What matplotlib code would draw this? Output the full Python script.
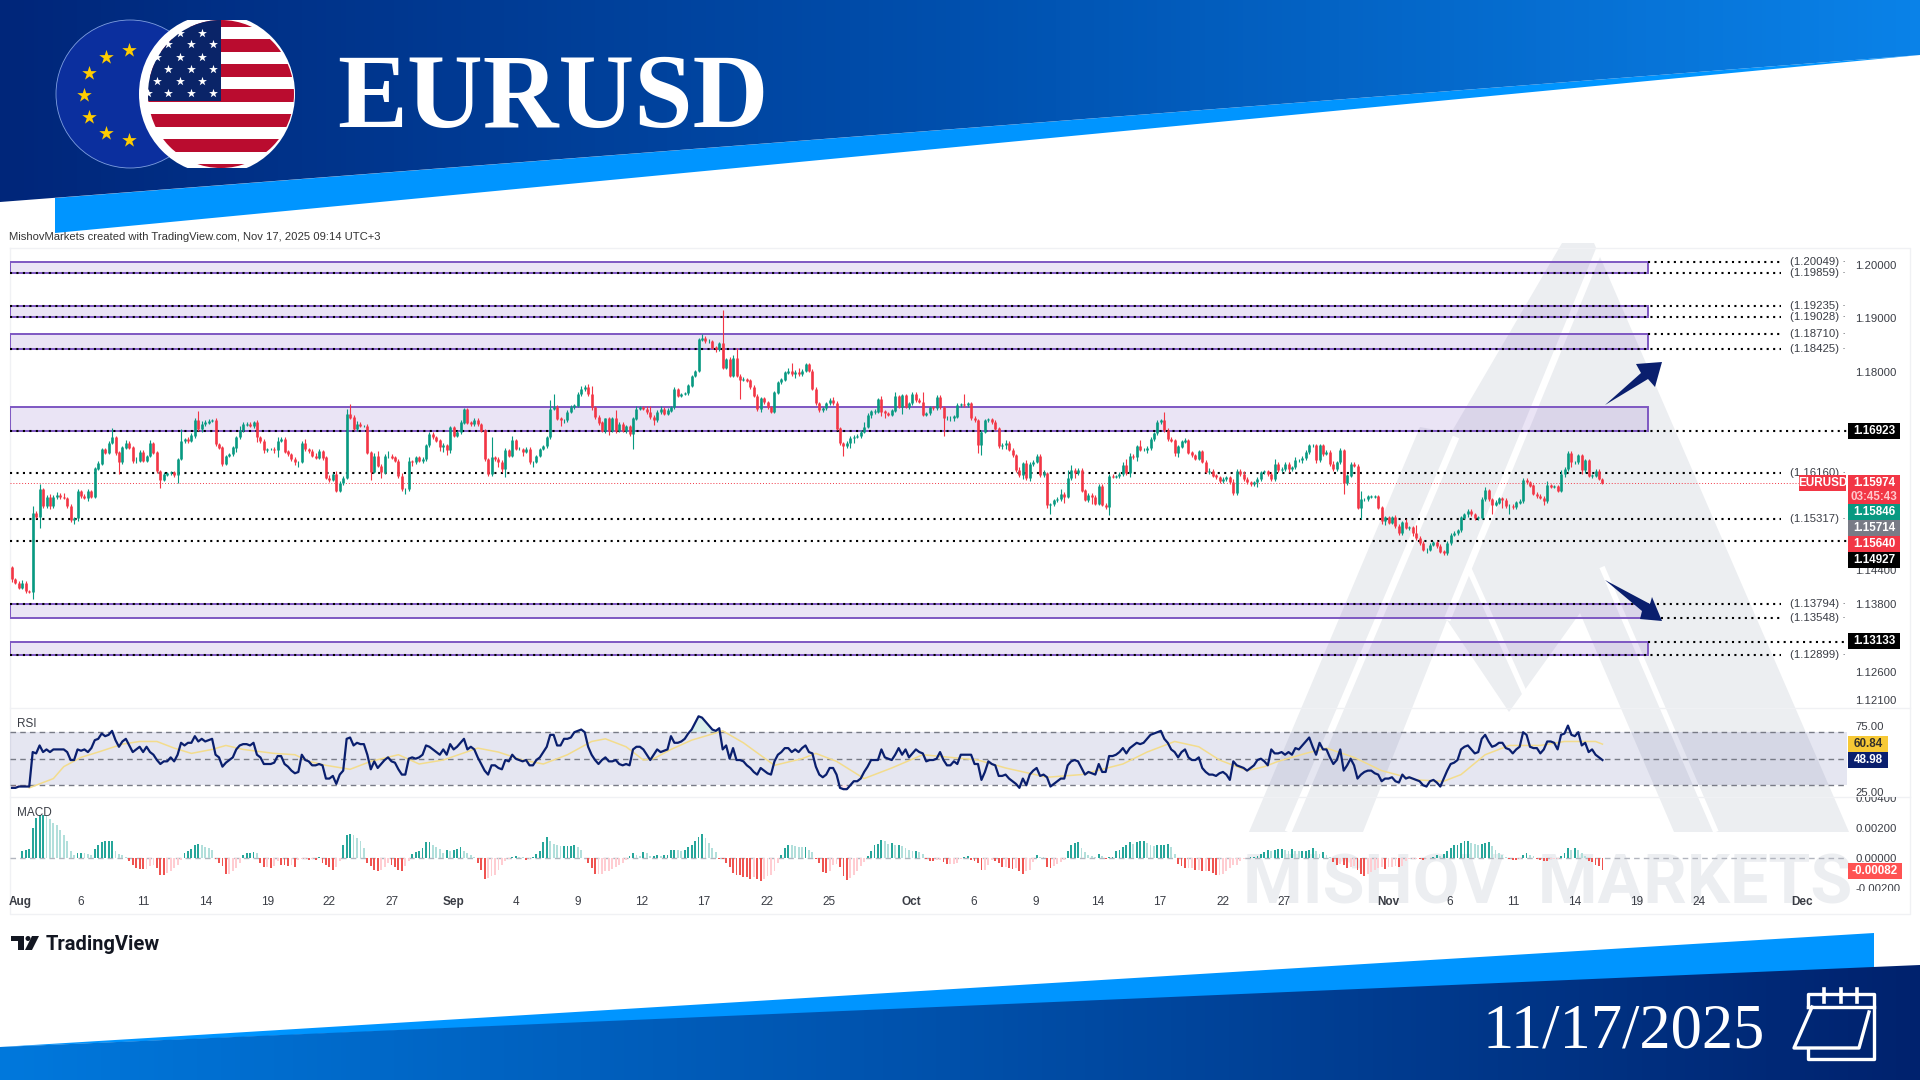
"""EURUSD 4H chart slide: candles, RSI and MACD panes with a branded header and footer."""

import matplotlib
matplotlib.use("Agg")
import matplotlib.pyplot as plt
import numpy as np
from matplotlib.patches import Ellipse, Polygon, Rectangle
from matplotlib.ticker import NullLocator
from matplotlib.transforms import Bbox

# closes in pips above 1.1000, one row per 10 4H bars
closes = [
    424,418,409,418,403,402,543,537,586,556,
    572,556,572,576,572,571,556,531,534,582,
    574,571,582,573,624,633,659,652,671,682,
    653,635,662,671,662,638,638,654,638,647,
    671,653,620,604,613,615,617,613,641,674,
    678,674,684,712,696,705,708,711,712,668,
    662,632,647,650,662,681,694,704,705,702,
    708,681,674,657,659,659,657,674,678,655,
    650,641,635,636,671,659,656,647,644,655,
    644,607,604,613,583,598,607,723,717,696,
    705,702,702,653,617,647,629,617,647,647,
    644,637,610,586,586,638,
    635,644,638,641,666,687,681,675,663,666,
    657,699,684,690,708,733,708,705,712,705,
    693,641,614,644,641,635,623,657,647,675,
    660,660,655,660,635,635,647,660,665,681,
    733,736,715,712,712,727,736,739,760,769,
    773,760,736,718,708,693,715,693,715,693,
    705,693,701,687,715,733,736,733,727,718,
    712,727,733,724,730,736,769,757,760,762,
    776,794,803,861,864,858,858,846,843,854,
    809,824,794,827,794,787,788,785,773,757,
    732,752,745,736,728,763,782,787,800,803,
    797,801,797,803,815,803,
    770,743,731,734,743,749,743,697,670,665,
    671,679,682,683,691,700,722,728,728,750,
    728,725,722,730,756,737,758,737,743,760,
    749,746,722,725,736,734,755,736,716,716,
    716,719,740,741,740,743,716,712,667,691,
    712,714,709,697,665,667,671,658,648,621,
    612,633,606,632,636,647,612,615,557,559,
    566,569,578,573,606,621,615,621,584,567,
    576,572,560,592,558,554,610,609,610,614,
    630,615,647,645,664,658,658,661,677,688,
    709,712,694,677,675,652,664,673,675,653,
    648,642,655,636,618,
    620,611,608,601,605,608,599,579,620,614,
    605,599,595,599,605,617,619,614,605,632,
    621,623,632,623,626,639,639,643,654,666,
    666,639,666,651,654,632,623,635,657,597,
    611,632,629,553,568,568,573,573,573,553,
    529,535,526,535,520,507,526,517,517,507,
    498,489,477,477,486,490,484,474,471,489,
    504,507,512,535,541,547,541,534,535,568,
    584,568,558,562,570,567,556,556,554,562,
    565,603,599,593,578,574,571,565,593,591,
    591,584,614,623,652,635,635,648,621,639,
    611,611,620,605,597,
]
wick_up = [
    3,2,3,4,3,2,12,4,9,3,
    3,5,4,6,4,8,2,3,2,4,
    3,3,5,2,2,4,3,2,3,15,
    2,3,2,4,3,3,6,3,3,2,
    4,2,3,2,4,3,2,3,2,22,
    2,3,4,5,17,6,5,3,2,4,
    3,3,2,2,2,2,7,4,3,3,
    3,5,3,4,2,2,4,8,3,3,
    2,3,4,2,3,7,3,3,5,4,
    2,3,5,3,6,4,3,9,18,5,
    5,3,2,3,3,5,9,3,4,9,
    3,3,4,5,3,6,
    2,3,3,4,3,3,3,2,3,5,
    3,3,3,2,4,2,2,3,4,5,
    2,3,2,38,3,3,5,4,3,9,
    3,3,2,3,3,3,2,2,2,3,
    17,25,4,3,3,3,4,3,3,5,
    3,6,15,3,3,2,2,3,3,15,
    3,4,3,2,3,5,2,3,6,12,
    3,3,5,3,4,3,4,3,2,2,
    3,2,2,3,7,4,3,2,3,3,
    62,3,4,6,18,3,3,2,3,3,
    3,3,3,3,3,2,3,3,3,5,
    14,3,8,3,3,3,
    3,3,3,3,3,3,6,5,3,3,
    3,4,3,3,4,9,3,3,4,3,
    6,2,3,3,8,3,3,3,3,4,
    3,3,18,3,3,3,3,3,3,3,
    3,3,3,3,20,3,3,3,3,3,
    3,3,3,3,3,3,5,3,3,3,
    5,3,6,3,3,3,3,6,3,3,
    3,3,8,3,15,9,3,3,3,3,
    3,3,3,3,3,3,3,3,2,3,
    5,12,5,3,3,12,3,3,4,3,
    3,3,15,3,5,3,3,3,4,3,
    3,3,3,3,3,
    5,3,3,3,3,3,3,6,3,3,
    5,3,3,3,3,3,3,3,3,9,
    3,3,3,3,3,5,3,3,3,2,
    2,3,2,3,3,3,5,3,5,3,
    3,3,3,3,15,3,3,3,3,3,
    3,3,3,3,5,3,3,6,3,3,
    15,3,3,3,3,3,3,3,3,3,
    3,3,3,3,3,3,3,3,3,5,
    6,3,3,5,3,3,3,3,3,3,
    3,3,3,3,3,3,3,3,9,3,
    3,3,8,3,3,3,3,3,3,3,
    3,3,3,3,1,
]
wick_dn = [
    5,3,3,3,4,3,14,3,21,4,
    4,5,3,3,3,2,4,4,8,5,
    3,3,6,3,3,2,3,2,2,3,
    4,21,3,2,3,5,4,3,3,3,
    3,3,4,15,3,2,3,5,15,2,
    3,3,2,4,3,5,3,2,3,4,
    3,3,2,2,4,8,4,3,3,2,
    4,9,3,5,3,2,5,12,2,3,
    3,3,4,8,3,3,3,2,3,3,
    5,3,4,3,2,2,4,3,3,2,
    3,3,2,3,14,2,3,10,3,4,
    3,2,4,3,9,3,
    6,3,3,4,3,3,3,3,8,9,
    8,5,3,3,4,3,3,4,3,3,
    3,3,3,3,3,8,6,15,3,2,
    3,3,8,3,3,9,2,2,3,3,
    3,3,3,10,5,3,2,3,3,3,
    3,3,6,3,4,3,4,8,3,4,
    3,3,4,3,27,3,3,3,3,3,
    8,4,3,3,3,3,3,2,2,2,
    3,3,3,3,3,3,3,3,5,3,
    3,3,3,3,3,36,3,3,3,3,
    3,4,3,3,3,3,3,3,3,3,
    3,8,3,3,3,3,
    3,3,3,3,3,3,3,3,3,18,
    3,10,9,3,3,3,3,5,5,3,
    8,9,3,3,3,3,13,3,5,3,
    3,3,3,3,3,3,3,3,32,3,
    6,5,3,3,3,3,3,3,14,18,
    3,3,3,3,3,6,8,3,3,3,
    3,8,3,5,3,3,3,3,5,15,
    3,3,5,12,3,3,9,3,3,3,
    4,12,3,3,3,3,15,3,3,3,
    3,3,6,3,8,3,3,6,3,3,
    3,3,3,3,3,5,8,3,3,3,
    3,3,3,3,3,
    5,3,3,3,3,3,3,3,3,3,
    3,3,3,3,8,3,3,3,3,3,
    3,3,3,5,3,3,3,5,3,3,
    3,5,3,5,3,3,3,3,3,20,
    3,3,3,3,21,3,3,3,3,3,
    5,8,3,3,3,3,3,3,5,5,
    3,3,3,5,3,3,3,3,3,3,
    3,3,3,3,3,5,3,3,3,3,
    3,3,17,3,3,15,3,15,3,3,
    3,3,3,3,3,3,3,7,3,3,
    3,3,3,5,3,8,3,3,8,5,
    3,5,3,2,1,
]
first_open = 445

rsi = [
    28,28,29,29,29,29,55,54,60,55,57,55,57,57,57,57,55,49,49,57,56,57,55,58,64,65,69,67,68,71,
    64,59,63,65,60,55,57,59,55,59,55,53,49,46,48,48,51,48,53,62,60,62,62,67,63,65,63,64,65,53,
    51,44,47,49,51,57,60,61,61,60,62,53,51,46,46,46,47,52,52,46,44,41,39,40,53,49,48,45,45,46,
    45,35,35,37,31,38,41,65,66,60,62,61,61,53,42,48,43,46,49,51,48,47,42,38,38,50,51,50,51,53,
    60,59,57,55,53,57,53,61,57,59,62,65,57,59,57,51,46,41,38,45,45,43,42,49,48,53,50,49,48,49,
    45,45,49,51,55,59,68,68,60,60,65,65,66,70,71,72,70,59,53,49,46,49,51,48,48,49,46,45,46,45,
    57,59,59,57,53,49,53,57,55,56,57,67,62,62,63,65,69,72,77,82,81,78,75,72,71,73,57,60,50,58,
    49,49,48,45,43,40,38,43,41,39,38,48,53,55,58,58,55,57,55,58,60,55,54,44,38,36,38,43,43,38,
    28,27,27,30,33,33,35,40,44,49,49,49,57,51,50,49,53,58,53,57,51,54,57,55,54,48,49,49,50,55,
    49,45,45,48,46,53,53,53,53,46,46,34,40,48,46,45,37,37,38,35,33,31,28,35,30,38,41,43,37,38,
    36,29,31,33,35,35,45,48,49,48,43,38,40,39,38,46,40,40,52,52,53,55,58,54,58,60,62,61,62,65,
    68,69,70,71,65,62,57,55,51,55,57,51,49,49,51,43,40,38,38,37,39,40,38,34,48,45,44,43,41,43,
    45,49,50,48,45,57,54,54,55,53,55,53,58,57,60,63,66,59,53,62,57,57,51,46,49,57,41,45,50,45,
    35,38,40,41,41,39,38,33,35,35,36,33,32,38,35,36,35,34,33,30,29,33,34,32,29,35,41,46,47,49,
    57,59,60,57,54,55,65,68,63,59,60,62,62,58,57,54,57,59,70,68,59,58,58,54,57,63,63,62,57,68,
    69,75,68,67,70,60,62,55,57,53,51,49,
]
rsi_ma_bar = [
    5,12,15,20,25,32,37,42,47,52,58,62,67,76,82,86,91,98,104,112,118,125,135,141,148,154,161,168,172,178,
    183,186,191,197,206,212,221,229,233,239,247,255,264,272,280,288,300,310,322,329,337,344,350,358,363,367,
    375,381,389,397,407,415,420,427,434,443,450,459,461,
]
rsi_ma = [
    28,35,44,51,55,61,63,63,58,54,57,60,57,54,53,48,45,42,48,53,46,49,58,55,49,46,53,63,65,59,
    49,50,57,64,71,62,45,50,54,48,35,43,53,51,49,43,36,38,46,55,63,59,49,41,44,48,
    54,58,51,41,34,33,38,53,60,60,63,63,61,
]

# MACD histogram, in units of 1/45000
macd_hist = [
    -5,-3,0,0,0,0,
    0,20,25,27,90,120,130,130,128,118,105,100,85,70,50,22,8,16,16,15,12,10,28,38,48,50,52,52,20,12,8,3,
    -8,-20,-30,-32,-33,-33,-25,-22,-30,-50,-52,-45,-40,-30,-20,-5,
    15,22,28,40,42,38,33,30,25,-3,-15,-25,-48,-48,-40,-30,-15,8,15,15,17,16,
    -15,-28,-28,-30,-25,-10,-20,-22,-25,-22,-28,-5,-3,-3,-5,-3,-5,3,
    -15,-20,-28,-35,-28,-10,40,70,72,70,60,50,30,
    -15,-25,-35,-40,-35,-28,-15,-20,-28,-35,-40,-25,-8,
    12,17,20,30,48,48,40,32,28,15,25,22,25,28,33,20,15,10,3,
    -15,-35,-62,-60,-55,-50,-35,-22,-10,-3,
    3,5,3,2,-5,-3,3,12,22,48,62,50,42,38,35,35,35,37,38,32,25,0,
    -15,-30,-48,-48,-48,-40,-38,-32,-28,-22,-15,-5,5,15,8,7,
    18,15,5,6,8,7,8,10,25,25,24,22,25,32,38,50,62,72,60,45,30,18,-2,-3,
    -15,-28,-45,-50,-52,-57,-58,-62,-58,-62,-68,-62,-55,-50,-40,-15,
    10,30,40,38,35,33,32,32,25,18,-3,
    -15,-42,-45,-40,-20,-18,-28,-55,-65,-60,-50,-40,-25,-12,
    5,22,38,42,55,50,42,45,40,40,35,30,25,20,22,18,12,-2,
    -8,-10,-5,-5,-12,-18,-18,-18,-15,-3,
    4,5,-5,-10,-15,-35,-35,-20,-5,-8,-15,-28,-28,-30,-32,-30,-38,-48,-40,-35,-12,
    8,3,2,-28,-30,-25,-18,-12,-5,
    20,40,45,48,30,18,10,5,2,12,5,-3,2,2,
    20,25,32,40,48,42,48,50,50,45,40,35,38,40,40,42,32,12,
    -18,-25,-30,-30,-30,-35,-35,-38,-38,-40,-45,-50,-50,-48,-38,-30,-22,-20,-8,-2,
    -1,2,2,5,12,18,25,20,25,28,28,
    25,20,28,22,20,22,22,25,30,20,12,18,10,3,
    -12,-20,-18,-22,-30,-28,-25,-35,-48,-55,-48,-42,-35,-30,-28,-32,-28,-28,-25,-28,-25,-8,-3,-3,
    -2,-3,-5,-3,-1,3,8,5,12,20,30,38,40,45,50,52,45,42,38,42,45,48,35,25,15,8,2,
    -2,-5,-7,-3,8,15,10,5,-2,-5,-8,-10,-3,-3,-3,5,15,30,25,30,25,15,5,
    -8,-12,-20,-25,-37,
]
MACD_SCALE = 45000

date_bars = [2.3,20,38,56,74,92,110,128,146,164,182.6,200.6,218.7,236.7,260.6,278.8,296.8,314.8,332.8,
             350.9,368.7,399,416.8,435,453,471,489,519]
date_labels = ["Aug","6","11","14","19","22","27","Sep","4","9","12","17","22","25","Oct","6","9","14","17",
               "22","27","Nov","6","11","14","19","24","Dec"]
month_labels = {"Aug", "Sep", "Oct", "Nov", "Dec"}

zones = [(1.20049, 1.19859), (1.19235, 1.19028), (1.18710, 1.18425),
         (1.17360, 1.16923), (1.13794, 1.13548), (1.13133, 1.12899)]
# level, drawn from the left edge or only right of the zones, runs up to the axis or stops at its label
full_levels = [1.19859, 1.19235, 1.19028, 1.18425, 1.13794, 1.12899]
right_levels = [1.20049, 1.18710, 1.13548]
plain_levels = [1.16160, 1.15317]
axis_levels = [1.16923, 1.14927]
labelled_levels = [1.20049, 1.19859, 1.19235, 1.19028, 1.18710, 1.18425, 1.16160, 1.15317, 1.13794, 1.13548, 1.12899]
price_ticks = [1.20, 1.19, 1.18, 1.17, 1.144, 1.138, 1.132, 1.126, 1.121]
rsi_ticks = [75, 25]
macd_ticks = [0.004, 0.002, 0.0, -0.002]

price_tags = [
    (431, "1.16923", "#000000", "white"),
    (483, "1.15974", "#f23645", "white"),
    (497, "03:45:43", "#f23645", "#ffc9ce"),
    (512, "1.15846", "#089981", "white"),
    (528, "1.15714", "#787b86", "white"),
    (544, "1.15640", "#f23645", "white"),
    (560, "1.14927", "#000000", "white"),
    (641, "1.13133", "#000000", "white"),
]

GREEN = "#089981"
RED = "#f23645"
PURPLE = "#7e57c2"
NAVY = "#0a1f6e"
GREY_MARK = "#eceef1"
NARROW = ["Liberation Sans", "DejaVu Sans"]
SERIF = ["Liberation Serif", "DejaVu Serif"]
WIDTH, HEIGHT = 1920, 1080

fig = plt.figure(figsize=(19.2, 10.8), dpi=100, facecolor="white")


def px_axes(x0, y0, x1, y1, zorder):
    ax = fig.add_axes([x0 / WIDTH, 1 - y1 / HEIGHT, (x1 - x0) / WIDTH, (y1 - y0) / HEIGHT], zorder=zorder)
    ax.patch.set_alpha(0)
    return ax


def gradient_poly(ax, points, stops, zorder):
    colors = matplotlib.colors.LinearSegmentedColormap.from_list("g", stops)
    img = ax.imshow(np.linspace(0, 1, 400)[None, :], cmap=colors, extent=(0, WIDTH, HEIGHT, 0),
                    aspect="auto", zorder=zorder)
    img.set_clip_path(Polygon(points, closed=True, transform=ax.transData))


# Background layer in pixel coordinates
bg = px_axes(0, 0, WIDTH, HEIGHT, 0)
bg.axis("off")

# Watermark
bg.add_patch(Polygon([(1249, 832), (1420, 427), (1451, 433), (1562, 243), (1594, 243), (1849, 832)],
                     color=GREY_MARK, lw=0, zorder=1))
bg.add_patch(Polygon([(1363, 832), (1447, 620), (1509, 712), (1580, 613), (1674, 832)], color="white", lw=0, zorder=1.1))
for (xa, ya), (xb, yb), w in [((1456, 437), (1288, 832), 5), ((1602, 243), (1447, 620), 5),
                              ((1602, 567), (1716, 832), 4), ((1468, 567), (1533, 712), 4)]:
    bg.plot([xa, xb], [ya, yb], color="white", lw=w, zorder=1.2, solid_capstyle="butt")
bg.text(1548, 885, "MISHOV  MARKETS", color=GREY_MARK, fontsize=49, fontweight="bold", family="Roboto",
        ha="center", va="center", zorder=1.3)

# Header and footer
bg.add_patch(Polygon([(55, 198), (1920, 55), (55, 233)], color="#0095ff", lw=0, zorder=2))
gradient_poly(bg, [(0, 0), (1920, 0), (1920, 55), (0, 202)], ["#00267a", "#0050ae", "#0a82e8"], 3)
bg.add_patch(Polygon([(0, 1047), (1874, 933), (1874, 970), (0, 1047)], color="#0095ff", lw=0, zorder=2))
gradient_poly(bg, [(0, 1047), (1920, 965), (1920, 1080), (0, 1080)], ["#0078dc", "#0050aa", "#00226e"], 3)

# Flags
bg.add_patch(Ellipse((130, 94), 148, 148, facecolor="#0b2f9e", edgecolor="#7f9fe0", lw=0.6, zorder=4))
bg.scatter([129, 106, 89, 84, 89, 106, 129], [50, 57, 73, 95, 117, 133, 140], marker="*", s=120,
           color="#ffcc00", lw=0, zorder=4.1)
white_disc = Ellipse((217, 94), 156, 160, facecolor="white", lw=0, zorder=4.2)
bg.add_patch(white_disc)
white_disc.set_clip_path(Rectangle((0, 20), 400, 148, transform=bg.transData))
us_disc = Ellipse((221, 94), 146, 148, facecolor="white", lw=0, zorder=4.3)
bg.add_patch(us_disc)
for row in range(0, 13, 2):
    stripe = Rectangle((140, 14.2 + row * 12.5), 160, 12.5, facecolor="#ba0c2f", lw=0, zorder=4.4)
    bg.add_patch(stripe)
    stripe.set_clip_path(us_disc)
canton = Rectangle((140, 10), 81, 91, facecolor="#0a2468", lw=0, zorder=4.5)
bg.add_patch(canton)
canton.set_clip_path(us_disc)
star_cols = [(33, [352, 396]), (44, [330, 374, 417]), (57, [308, 352, 396]), (69, [330, 374, 417]),
             (81, [308, 352, 395]), (93, [290, 330, 374, 417])]
for star_y, star_xs in star_cols:
    bg.scatter([z / 1.96 for z in star_xs], [star_y] * len(star_xs), marker="*", s=45, color="white", lw=0, zorder=4.6)

bg.text(337, 101, "EURUSD", color="white", fontsize=75.5, fontweight="bold", family=SERIF, ha="left", va="center", zorder=5)
bg.text(1483, 1033, "11/17/2025", color="white", fontsize=45, family=SERIF, ha="left", va="center", zorder=5)

# Calendar icon
for xs, ys in [([1808, 1808, 1874, 1874, 1808, 1808], [1007, 994, 994, 1059, 1059, 1050]),
               ([1808, 1874], [1007, 1007]),
               ([1812, 1794, 1859, 1869], [1007, 1048, 1048, 1012])]:
    bg.plot(xs, ys, color="white", lw=2.4, zorder=5, solid_joinstyle="round")
for ring_x in [1824, 1841, 1857]:
    bg.plot([ring_x, ring_x], [989, 1002], color="white", lw=2.6, zorder=5)

# Pane frames
for xs, ys in [([10, 1910, 1910, 10, 10], [248, 248, 914, 914, 248]), ([10, 1910], [708, 708]), ([10, 1910], [797, 797])]:
    bg.plot(xs, ys, color="#f0f1f4", lw=1, zorder=1.5)

bg.text(9, 237, "MishovMarkets created with TradingView.com, Nov 17, 2025 09:14 UTC+3", color="#333333",
        fontsize=8.1, family=NARROW, ha="left", va="center", zorder=5)

# TradingView logo
bg.add_patch(Polygon([(11, 936), (24, 936), (24, 950), (18, 950), (18, 941), (11, 941)], color="#131722", lw=0, zorder=5))
bg.add_patch(Ellipse((28, 938.5), 5, 5, color="#131722", lw=0, zorder=5))
bg.add_patch(Polygon([(32, 936), (39, 936), (32, 950), (25, 950)], color="#131722", lw=0, zorder=5))
bg.text(46, 944, "TradingView", color="#131722", fontsize=14.5, fontweight="bold", family="Roboto",
        ha="left", va="center", zorder=5)

bg.set_xlim(0, WIDTH)
bg.set_ylim(HEIGHT, 0)

# Chart panes share one bar-index x axis
closes_arr = 1.1 + np.array(closes) / 10000
opens_arr = np.concatenate([[1.1 + first_open / 10000], closes_arr[:-1]])
body_top = np.maximum(opens_arr, closes_arr)
body_low = np.minimum(opens_arr, closes_arr)
highs = body_top + np.array(wick_up) / 10000
lows = body_low - np.array(wick_dn) / 10000
bars = np.arange(len(closes_arr))
up = closes_arr >= opens_arr
candle_colors = np.where(up, GREEN, RED)

PLOT_L, PLOT_R = 10, 1847
BAR_PX = 3.45
x_limits = ((PLOT_L - 12) / BAR_PX, (PLOT_R - 12) / BAR_PX)
zone_end = (1648 - 12) / BAR_PX
label_end = (1781 - 12) / BAR_PX

price_ax = px_axes(PLOT_L, 248, PLOT_R, 708, 2)
rsi_ax = px_axes(PLOT_L, 708, PLOT_R, 797, 2)
macd_ax = px_axes(PLOT_L, 797, PLOT_R, 888, 2)
for ax in (price_ax, rsi_ax, macd_ax):
    ax.set_xlim(*x_limits)
    for side in ax.spines.values():
        side.set_visible(False)
    ax.yaxis.tick_right()
    ax.tick_params(axis="both", length=0, labelsize=8.2, labelcolor="#3a3d45")
    ax.set_xticks([])

# Price pane
price_ax.set_yscale("log")
price_ax.set_ylim(1.2 * np.exp(-443 / 6390), 1.2 * np.exp(17 / 6390))
price_ax.yaxis.set_minor_locator(NullLocator())
price_ax.set_yticks(price_ticks, [f"{t:.5f}" for t in price_ticks], family=NARROW)
price_ax.tick_params(axis="y", pad=5.8)

for hi, lo in zones:
    price_ax.add_patch(Rectangle((x_limits[0], lo), zone_end - x_limits[0], hi - lo, facecolor=PURPLE, alpha=0.16,
                                 lw=0, zorder=2))
    price_ax.add_patch(Rectangle((x_limits[0], lo), zone_end - x_limits[0], hi - lo, facecolor="none", edgecolor=PURPLE,
                                 lw=1.4, zorder=2.1))

DOT = (0, (1, 2.1))
for level in full_levels:
    price_ax.plot([x_limits[0], label_end], [level, level], color="black", lw=1.5, ls=DOT, zorder=3)
for level in right_levels:
    price_ax.plot([zone_end, label_end], [level, level], color="black", lw=1.5, ls=DOT, zorder=3)
for level in plain_levels:
    price_ax.plot([x_limits[0], label_end], [level, level], color="black", lw=1.5, ls=DOT, zorder=3)
for level in axis_levels:
    price_ax.plot([x_limits[0], x_limits[1]], [level, level], color="black", lw=1.5, ls=DOT, zorder=3)
price_ax.plot([zone_end, x_limits[1]], [1.13133, 1.13133], color="black", lw=1.5, ls=DOT, zorder=3)
price_ax.plot(x_limits, [1.15974, 1.15974], color=RED, lw=0.7, ls=(0, (1, 2)), zorder=3)

price_ax.vlines(bars, lows, highs, colors=candle_colors, lw=0.8, zorder=4)
price_ax.vlines(bars, body_low - 0.00002, body_top + 0.00002, colors=candle_colors, lw=1.9, zorder=4.1)

for level in labelled_levels:
    price_ax.text((1790 - 12) / BAR_PX, level, f"({level:.5f}) ·", color="#3a3d45", fontsize=8.2, family=NARROW,
                  ha="left", va="center", zorder=5)

# RSI pane
rsi_arr = np.array(rsi, dtype=float)
rsi_x = np.arange(len(closes_arr) - len(rsi_arr), len(closes_arr))
rsi_ax.set_ylim(50 - 38.3 / 1.325, 50 + 50.7 / 1.325)
rsi_ax.axhspan(30, 70, color="#2f3590", alpha=0.12, lw=0, zorder=1)
for level in (70, 50, 30):
    rsi_ax.axhline(level, color="#787b86", lw=1, ls=(0, (4, 3)), zorder=2)
rsi_ax.fill_between(rsi_x, 70, rsi_arr, where=rsi_arr > 70, color=GREEN, alpha=0.15, lw=0, zorder=2)
rsi_ax.fill_between(rsi_x, 30, rsi_arr, where=rsi_arr < 30, color=RED, alpha=0.12, lw=0, zorder=2)
rsi_ax.plot(rsi_ma_bar, rsi_ma, color="#f3dc8c", lw=1.1, zorder=3)
rsi_ax.plot(rsi_x, rsi_arr, color=NAVY, lw=1.6, zorder=4)
rsi_ax.set_yticks(rsi_ticks, [f"{t:.2f}" for t in rsi_ticks], family=NARROW)
rsi_ax.tick_params(axis="y", pad=5.8)

# MACD pane
macd_arr = np.array(macd_hist) / MACD_SCALE
macd_x = np.arange(len(closes_arr) - len(macd_arr), len(closes_arr))
macd_prev = np.concatenate([[0], macd_arr[:-1]])
macd_colors = np.select(
    [(macd_arr >= 0) & (macd_arr >= macd_prev), macd_arr >= 0, macd_arr < macd_prev],
    ["#26a69a", "#b2dfdb", "#ef5350"],
    default="#ffcdd2",
)
macd_ax.set_ylim(-30 / 15000, 61 / 15000)
macd_ax.axhline(0, color="#b2b5be", lw=1, ls=(0, (4, 3)), zorder=1)
macd_ax.bar(macd_x, macd_arr, width=0.55, color=macd_colors, lw=0, zorder=2)
macd_ax.set_yticks(macd_ticks, [f"{t:.5f}" for t in macd_ticks], family=NARROW)
macd_ax.tick_params(axis="y", pad=5.8)
macd_clip = Bbox([[1840, 1080 - 891], [1920, 1080 - 797]])
for label in macd_ax.get_yticklabels():
    label.set_clip_on(True)
    label.set_clip_box(macd_clip)

# Overlay with date labels, price tags and arrows, in pixel coordinates
top = px_axes(0, 0, WIDTH, HEIGHT, 6)
top.axis("off")
top.set_xlim(0, WIDTH)
top.set_ylim(HEIGHT, 0)

for bar, text in zip(date_bars, date_labels):
    weight = "bold" if text in month_labels else "normal"
    top.text(12 + bar * BAR_PX, 902, text, color="#3a3d45", fontsize=8.5, family=NARROW, fontweight=weight,
             ha="center", va="center")

top.text(17, 724, "RSI", color="#3a3d45", fontsize=8.5, family=NARROW, va="center")
top.text(17, 813, "MACD", color="#3a3d45", fontsize=8.5, family=NARROW, va="center")


def tag(x0, x1, yc, height, text, color, text_color):
    top.add_patch(Rectangle((x0, yc - height / 2), x1 - x0, height, facecolor=color, lw=0, zorder=3))
    top.text((x0 + x1) / 2, yc, text, color=text_color, fontsize=8.4, family=NARROW, fontweight="bold",
             ha="center", va="center", zorder=4)


for yc, text, color, text_color in price_tags:
    tag(1848, 1900, yc, 15.6, text, color, text_color)
tag(1799, 1846, 483, 16, "EURUSD", RED, "white")
tag(1848, 1888, 744, 16, "60.84", "#f7c935", "#33302a")
tag(1848, 1888, 760, 16, "48.98", NAVY, "white")
tag(1848, 1902, 871, 15.6, "-0.00082", "#ff5252", "white")

top.add_patch(Polygon([(1605, 405), (1641, 373), (1636, 364), (1662, 362), (1655, 387), (1648, 379)],
                      color=NAVY, lw=0, zorder=5))
top.add_patch(Polygon([(1605, 580), (1650, 604), (1652, 597), (1662, 621), (1640, 619), (1642, 611)],
                      color=NAVY, lw=0, zorder=5))

fig.savefig("out.png", dpi=100)
